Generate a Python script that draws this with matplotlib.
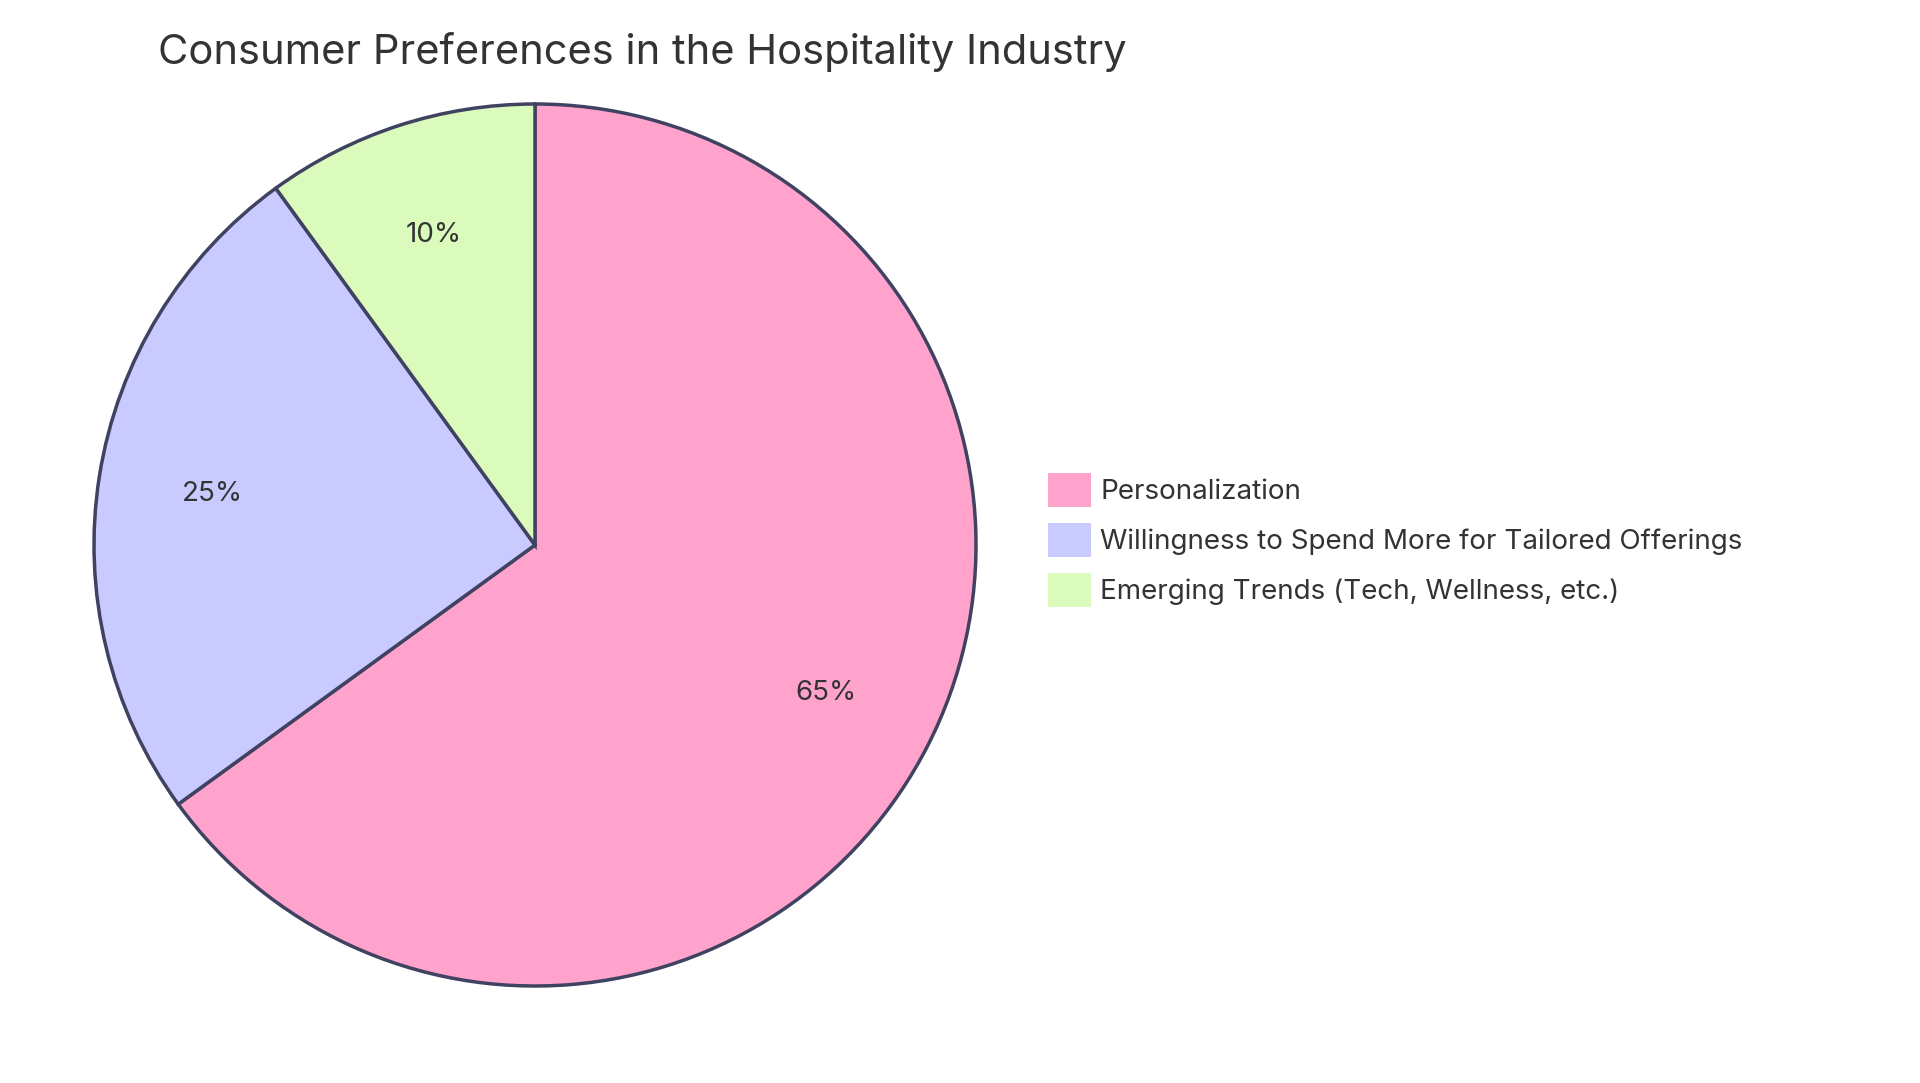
import matplotlib
matplotlib.use("Agg")
import matplotlib.pyplot as plt
from matplotlib.patches import Patch

labels = ["Personalization", "Willingness to Spend More for Tailored Offerings", "Emerging Trends (Tech, Wellness, etc.)"]
values = [65, 25, 10]
colors = ["#FFA3CD", "#C9CAFF", "#DBFBBD"]
edge = "#3F4260"
txt = "#333333"

plt.rcParams['font.family'] = ['Inter', 'DejaVu Sans']
W, H = 1920, 1083
fig = plt.figure(figsize=(W/100, H/100), dpi=100)
cx, cy, r = 535, 545, 441
ax = fig.add_axes([(cx-r)/W, 1-(cy+r)/H, 2*r/W, 2*r/H])
ax.pie(values, colors=colors, startangle=90, counterclock=False,
       autopct='%d%%', pctdistance=0.74,
       wedgeprops=dict(edgecolor=edge, linewidth=2.5),
       textprops=dict(fontsize=20, color=txt))
ax.set_xlim(-1.0, 1.0); ax.set_ylim(-1.0, 1.0)
ax.set_aspect('equal')
ax.axis('off')

fig.text(1127/W, 1-52/H, "Consumer Preferences in the Hospitality Industry",
         ha='right', va='center', fontsize=30, color=txt)

handles = [Patch(facecolor=c, edgecolor='none') for c in colors]
fig.legend(handles, labels, loc='center left', bbox_to_anchor=(1038/W - 0.008, 1-540/H),
           frameon=False, fontsize=20, handlelength=1.55, handleheight=1.55,
           handletextpad=0.35, labelspacing=0.55, labelcolor=txt)

fig.savefig("out.png", dpi=100)
